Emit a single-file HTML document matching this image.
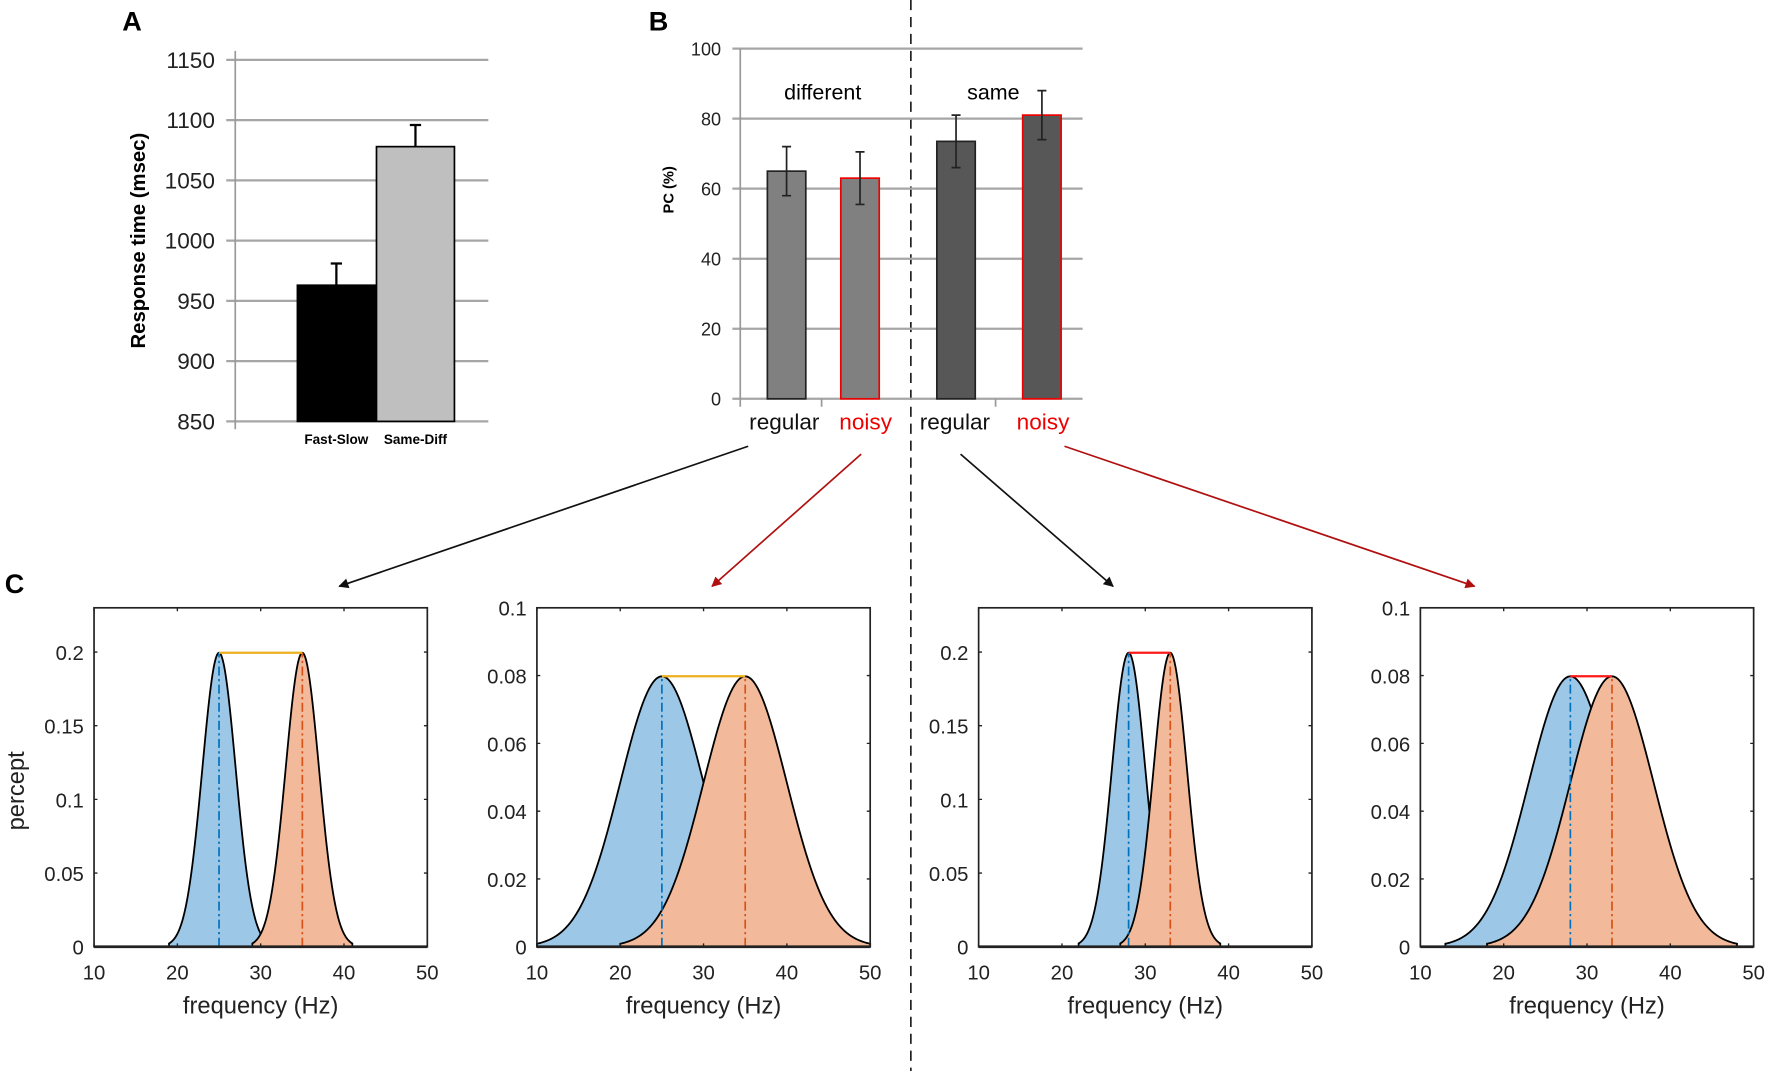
<!DOCTYPE html>
<html><head><meta charset="utf-8"><style>
html,body{margin:0;padding:0;background:#fff}
svg{display:block}
text{font-family:"Liberation Sans",sans-serif}
</style></head><body>
<svg id="fig" width="1772" height="1071" viewBox="0 0 1568 948" xmlns="http://www.w3.org/2000/svg">
<line x1="806" y1="0" x2="806" y2="948" stroke="#222" stroke-width="1.5" stroke-dasharray="9,6"/>
<text x="108" y="27" font-size="24" font-weight="bold">A</text>
<text x="574" y="27" font-size="24" font-weight="bold">B</text>
<text x="4" y="525" font-size="24" font-weight="bold">C</text>
<g id="pa"></g>
<g id="pb"></g>
<g id="arrows"></g>
<g id="pc"></g>
</svg>
<script>
const NS="http://www.w3.org/2000/svg";
function mk(p,t,a,txt){const e=document.createElementNS(NS,t);for(const k in a)e.setAttribute(k,a[k]);if(txt!==undefined)e.textContent=txt;p.appendChild(e);return e;}

// Panel A data
const aCategories=["Fast-Slow","Same-Diff"];
const aValues=[963,1078];
const aErrors=[18,18];
const aTicks=[850,900,950,1000,1050,1100,1150];
// Panel B data
const bCategories=["regular","noisy","regular","noisy"];
const bValues=[65,63,73.5,81];
const bErrors=[7,7.5,7.5,7];
const bTicks=[0,20,40,60,80,100];
const bGroups=["different","same"];
// Panel C data
const cMeansBlue=[25,25,28,28];
const cMeansOrange=[35,35,33,33];
const cSigmas=[2,5,2,5];
const cYMax=[0.23,0.1,0.23,0.1];
const cYTicks1=["0","0.05","0.1","0.15","0.2"];
const cYTickVals1=[0,0.05,0.1,0.15,0.2];
const cYTicks2=["0","0.02","0.04","0.06","0.08","0.1"];
const cYTickVals2=[0,0.02,0.04,0.06,0.08,0.1];
const cXTicks=[10,20,30,40,50];

// ---- Panel A
(function(){
const g=document.getElementById('pa');
const y=v=>373-(v-850)*(320/300);
aTicks.forEach(t=>{
 let l=mk(g,'line',{x1:200,x2:432,y1:y(t),y2:y(t),stroke:'#a6a6a6','stroke-width':2});
 
 let tx=mk(g,'text',{x:190,y:y(t)+7,'font-size':20,'text-anchor':'end',fill:'#222'},t);
 
});
let ax=mk(g,'line',{x1:208,x2:208,y1:45,y2:380,stroke:'#999','stroke-width':1.5});

const fills=['#000','#bfbfbf'];const xs=[263,333];const w=69;
aValues.forEach((v,i)=>{
 let r=mk(g,'rect',{x:xs[i],y:y(v),width:w,height:y(850)-y(v),fill:fills[i],stroke:'#000','stroke-width':1.5});
 
 const cx=xs[i]+w/2;
 let e=mk(g,'path',{d:`M${cx},${y(v)}V${y(v+aErrors[i])}M${cx-5},${y(v+aErrors[i])}H${cx+5}`,stroke:'#000','stroke-width':2,fill:'none'});
 
 let t=mk(g,'text',{x:cx,y:393,'font-size':12,'font-weight':'bold','text-anchor':'middle'},aCategories[i]);
 
});
let yt=mk(g,'text',{x:0,y:0,'font-size':18,'font-weight':'bold','text-anchor':'middle',transform:'translate(128,213) rotate(-90)'},'Response time (msec)');

})();

// ---- Panel B
(function(){
const g=document.getElementById('pb');
const y=v=>353-v*3.1;
bTicks.forEach(t=>{
 let l=mk(g,'line',{x1:648,x2:958,y1:y(t),y2:y(t),stroke:'#a6a6a6','stroke-width':2});
 
 let tx=mk(g,'text',{x:638,y:y(t)+6,'font-size':16,'text-anchor':'end',fill:'#222'},t);
 
});
let ax=mk(g,'line',{x1:655,x2:655,y1:43,y2:360,stroke:'#999','stroke-width':1.5});

[727,881].forEach(x=>{let l=mk(g,'line',{x1:x,x2:x,y1:353,y2:360,stroke:'#999','stroke-width':1.5});});
const xs=[679,744,829,905];const w=34;
const fills=['#808080','#808080','#575757','#575757'];
const strokes=['#222','#e00','#222','#e00'];
const labCol=['#111','#e00','#111','#e00'];
const labX=[694,766,845,923];
bValues.forEach((v,i)=>{
 let r=mk(g,'rect',{x:xs[i],y:y(v),width:w,height:y(0)-y(v),fill:fills[i],stroke:strokes[i],'stroke-width':1.5});
 
 const cx=xs[i]+w/2,e=bErrors[i];
 let p=mk(g,'path',{d:`M${cx},${y(v+e)}V${y(v-e)}M${cx-4},${y(v+e)}H${cx+4}M${cx-4},${y(v-e)}H${cx+4}`,stroke:'#222','stroke-width':1.5,fill:'none'});
 
 let t=mk(g,'text',{x:labX[i],y:380,'font-size':20,'text-anchor':'middle',fill:labCol[i]},bCategories[i]);
 
});
let t1=mk(g,'text',{x:728,y:88,'font-size':19,'text-anchor':'middle'},bGroups[0]);

let t2=mk(g,'text',{x:879,y:88,'font-size':19,'text-anchor':'middle'},bGroups[1]);

let yt=mk(g,'text',{x:0,y:0,'font-size':13,'font-weight':'bold','text-anchor':'middle',transform:'translate(596,168) rotate(-90)'},'PC (%)');

})();

// ---- Arrows
(function(){
const g=document.getElementById('arrows');
const defs=mk(g,'defs',{});
[['k','#111'],['r','#b01010']].forEach(([id,c])=>{
 const m=mk(defs,'marker',{id:'ah'+id,viewBox:'0 0 10 10',refX:9,refY:5,markerWidth:9,markerHeight:9,orient:'auto',markerUnits:'userSpaceOnUse'});
 mk(m,'path',{d:'M0,0L10,5L0,10z',fill:c});
});
const ar=[[662,395,300,519,'k'],[762,402,630,519,'r'],[850,402,985,519,'k'],[942,395,1305,519,'r']];
ar.forEach(a=>{
 let l=mk(g,'line',{x1:a[0],y1:a[1],x2:a[2],y2:a[3],stroke:a[4]=='k'?'#111':'#b01010','stroke-width':1.5,'marker-end':`url(#ah${a[4]})`});
 
});
})();

// ---- Panel C
(function(){
const g=document.getElementById('pc');
const lefts=[83,475,866,1257];const W=295,T=538,B=838;
const peakCols=['#edb120','#edb120','#ff1a1a','#ff1a1a'];
for(let p=0;p<4;p++){
 const L=lefts[p],ymax=cYMax[p],s=cSigmas[p];
 const sub=mk(g,'g',{});
 
 const x=v=>L+(v-10)/40*W;
 const y=v=>B-v/ymax*(B-T);
 const pdf=(v,m)=>Math.exp(-0.5*((v-m)/s)**2)/(s*Math.sqrt(2*Math.PI));
 const curve=(m,col,name)=>{
  const a=Math.max(10,m-3*s),b=Math.min(50,m+3*s);
  let d=`M${x(a)},${y(0)}`;
  for(let i=0;i<=120;i++){const v=a+(b-a)*i/120;d+=`L${x(v).toFixed(2)},${y(pdf(v,m)).toFixed(2)}`;}
  d+=`L${x(b)},${y(0)}Z`;
  let e=mk(sub,'path',{d,fill:col,stroke:'#000','stroke-width':1.6});
  
 };
 curve(cMeansBlue[p],'#9cc7e6','blue-distribution');
 curve(cMeansOrange[p],'#f2ba9a','orange-distribution');
 const pk=pdf(cMeansBlue[p],cMeansBlue[p]);
 let l1=mk(sub,'line',{x1:x(cMeansBlue[p]),x2:x(cMeansBlue[p]),y1:y(0),y2:y(pk),stroke:'#0072bd','stroke-width':1.5,'stroke-dasharray':'8,3,2,3'});
 
 let l2=mk(sub,'line',{x1:x(cMeansOrange[p]),x2:x(cMeansOrange[p]),y1:y(0),y2:y(pk),stroke:'#d95319','stroke-width':1.5,'stroke-dasharray':'8,3,2,3'});
 
 let l3=mk(sub,'line',{x1:x(cMeansBlue[p]),x2:x(cMeansOrange[p]),y1:y(pk),y2:y(pk),stroke:peakCols[p],'stroke-width':2});
 
 let bx=mk(sub,'rect',{x:L,y:T,width:W,height:B-T,fill:'none',stroke:'#222','stroke-width':1.5});
 
 let base=mk(sub,'line',{x1:L,x2:L+W,y1:B,y2:B,stroke:'#222','stroke-width':2.5});
 
 cXTicks.forEach(t=>{
  let tk=mk(sub,'path',{d:`M${x(t)},${B}v-3M${x(t)},${T}v3`,stroke:'#222','stroke-width':1.2});
  
  let tx=mk(sub,'text',{x:x(t),y:867,'font-size':18,'text-anchor':'middle',fill:'#222'},t);
  
 });
 const tl=(p%2==0)?cYTicks1:cYTicks2, tv=(p%2==0)?cYTickVals1:cYTickVals2;
 tv.forEach((v,i)=>{
  let tk=mk(sub,'path',{d:`M${L},${y(v)}h3M${L+W},${y(v)}h-3`,stroke:'#222','stroke-width':1.2});
  
  let tx=mk(sub,'text',{x:L-9,y:y(v)+7,'font-size':18,'text-anchor':'end',fill:'#222'},tl[i]);
  
 });
 let xl=mk(sub,'text',{x:L+W/2,y:897,'font-size':21,'text-anchor':'middle',fill:'#222'},'frequency (Hz)');
 
}
let yl=mk(g,'text',{x:0,y:0,'font-size':21,'text-anchor':'middle',fill:'#222',transform:'translate(21,700) rotate(-90)'},'percept');

})();
</script>
</body></html>
